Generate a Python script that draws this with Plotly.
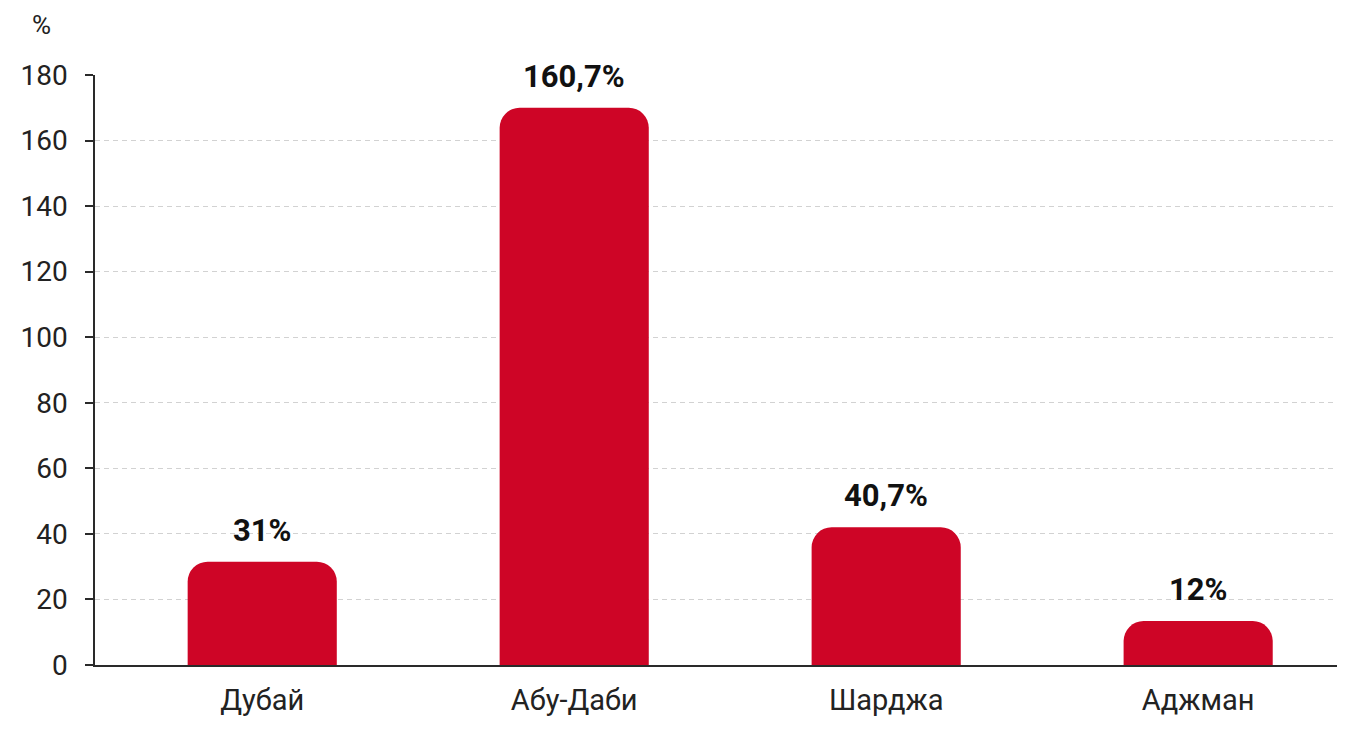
import plotly.graph_objects as go

# Data
emirates = ['Дубай', 'Абу-Даби', 'Шарджа', 'Аджман']
bar_heights = [31.5, 170, 42, 13.4]
value_labels = ['31%', '160,7%', '40,7%', '12%']
y_ticks = [0, 20, 40, 60, 80, 100, 120, 140, 160, 180]

bar_color = '#CE0526'
font_family = 'Roboto'

fig = go.Figure()
fig.add_trace(go.Bar(
    x=emirates,
    y=bar_heights,
    width=0.478,
    marker=dict(color=bar_color, line=dict(width=0)),
    hoverinfo='skip',
))

# Value labels above bars
for name, h, lbl in zip(emirates, bar_heights, value_labels):
    fig.add_annotation(
        x=name, y=h, text=f'<b>{lbl}</b>',
        showarrow=False, yanchor='bottom', yshift=11,
        font=dict(family=font_family, size=31, color='#111111'),
    )

# Unit label at the top-left
fig.add_annotation(
    xref='paper', yref='paper', x=-0.043, y=1.085, text='%',
    showarrow=False, xanchor='center', yanchor='middle',
    font=dict(family=font_family, size=26, color='#222222'),
)

# page body has an 8px margin, so the figure is sized to fit inside it
fig.update_layout(
    width=1355,
    height=732,
    margin=dict(l=85, r=26, t=67, b=75),
    plot_bgcolor='white',
    paper_bgcolor='white',
    showlegend=False,
    barcornerradius=20,
    font=dict(family=font_family, size=28, color='#222222'),
    xaxis=dict(
        type='category',
        range=[-0.536, 3.445],
        showgrid=False,
        showline=True, linecolor='#2a2a2a', linewidth=1.5,
        ticks='', ticklabelstandoff=8,
        tickfont=dict(size=29),
    ),
    yaxis=dict(
        range=[0, 180],
        tickvals=y_ticks,
        showgrid=True, gridcolor='#d2d2d2', griddash='5px,4px', gridwidth=1,
        showline=True, linecolor='#2a2a2a', linewidth=1.5,
        ticks='outside', ticklen=8, tickcolor='#2a2a2a', tickwidth=1.5,
        ticklabelstandoff=12,
        zeroline=False,
        tickfont=dict(size=28),
    ),
)

fig.write_html('out.html')
